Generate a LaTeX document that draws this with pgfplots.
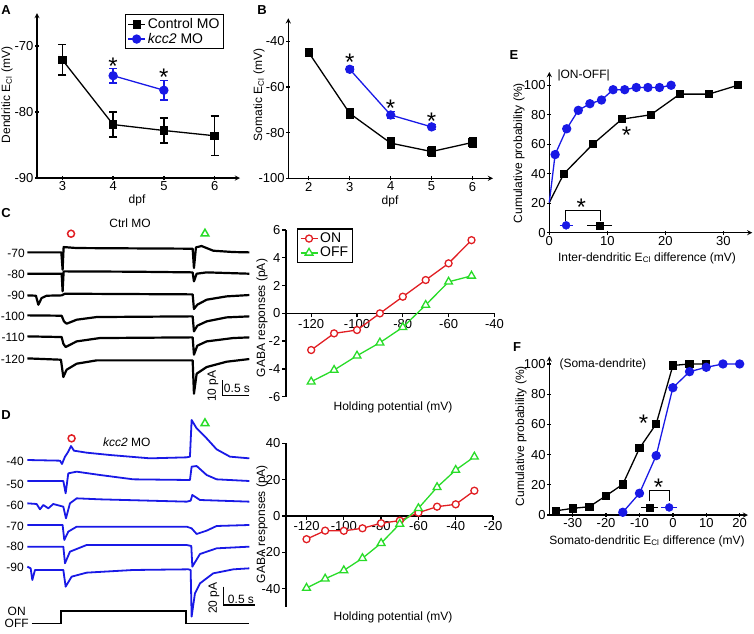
\documentclass[border=0pt]{standalone}
\usepackage{pgfplots}
\pgfplotsset{compat=1.18}
\usepackage{fontspec}
\setmainfont{Liberation Sans}
\definecolor{gpblue}{RGB}{25,25,230}
\definecolor{gpred}{RGB}{225,30,35}
\definecolor{gpgreen}{RGB}{40,220,40}
\pgfplotsset{
  every axis/.append style={font=\fontsize{12}{14}\selectfont},
  gpbase/.style={
    scale only axis,
    axis line style={-, line width=1.3pt},
    tick align=outside,
    major tick length=4pt,
    tick style={line width=1.3pt, black},
    /pgf/number format/assume math mode=true,
    clip=false,
    ticklabel style={font=\fontsize{13}{15}\selectfont, inner sep=1.5pt},
  },
  gp/.style={gpbase, axis lines=left},
  gpiv/.style={gpbase, axis x line*=middle, axis y line*=left},
  ebar/.style={error bars/.cd, y dir=both, y explicit,
    error bar style={line width=1.3pt},
    error mark options={line width=1.3pt, mark size=4pt, rotate=90}},
  xebar/.style={error bars/.cd, x dir=both, x explicit,
    error bar style={line width=1.3pt},
    error mark options={line width=1.3pt, mark size=3pt}},
  trace/.style={scale only axis, hide axis, clip=false},
}
\tikzset{star/.style={font=\fontsize{24}{24}\selectfont, inner sep=0pt, yshift=-5pt},
  lbl/.style={font=\fontsize{13}{13}\selectfont\bfseries}}
\begin{document}
\begin{tikzpicture}
\path[use as bounding box] (0,0) rectangle (754pt,-633pt);

% ---------- A ----------
\begin{axis}[gp, at={(37pt,-178pt)}, anchor=south west, width=203pt, height=165pt,
  xmin=2.5, xmax=6.5, ymin=-90, ymax=-65, xtick={3,4,5,6}, ytick={-90,-80,-70},
  legend style={at={(0.433,0.994)}, anchor=north west, draw=black, line width=1.2pt,
    font=\fontsize{14}{16}\selectfont, inner sep=2pt, row sep=-1pt, cells={anchor=west}}]
\addplot[black, line width=1.3pt, mark=square*, mark size=3.5pt, ebar]
  coordinates {(3,-72.1) +- (0,2.3) (4,-81.9) +- (0,1.9) (5,-82.8) +- (0,1.9) (6,-83.6) +- (0,3.0)};
\addlegendentry{Control MO}
\addplot[gpblue, line width=1.3pt, mark=*, mark size=4pt, ebar]
  coordinates {(4,-74.5) +- (0,1.1) (5,-76.7) +- (0,1.5)};
\addlegendentry{\textit{kcc2} MO}
\node[star] at (axis cs:4,-72.3) {*};
\node[star] at (axis cs:5,-74.0) {*};
\end{axis}

% ---------- B ----------
\begin{axis}[gp, at={(288.3pt,-178.3pt)}, anchor=south west, width=204.7pt, height=160pt,
  xmin=1.5, xmax=6.5, ymin=-100, ymax=-30, xtick={2,3,4,5,6}, ytick={-100,-80,-60,-40}]
\addplot[black, line width=1.3pt, mark=square*, mark size=3.5pt, ebar]
  coordinates {(2,-45) +- (0,1) (3,-71.6) +- (0,2.2) (4,-84.6) +- (0,2.2) (5,-88.3) +- (0,2) (6,-84.3) +- (0,2.2)};
\addplot[gpblue, line width=1.3pt, mark=*, mark size=4pt, ebar]
  coordinates {(3,-52.3) +- (0,1) (4,-72.3) +- (0,1.5) (5,-77.5) +- (0,1)};
\node[star] at (axis cs:3,-47.1) {*};
\node[star] at (axis cs:4,-67.3) {*};
\node[star] at (axis cs:5,-72.9) {*};
\end{axis}

% ---------- E ----------
\begin{axis}[gp, at={(549.3pt,-232.7pt)}, anchor=south west, width=203pt, height=160.7pt,
  xmin=0, xmax=35, ymin=0, ymax=109, xtick={0,10,20,30}, ytick={0,20,40,60,80,100}]
\addplot[black, line width=1.3pt] coordinates {(0,20.5) (2.5,40)};
\addplot[black, line width=1.3pt, mark=square*, mark size=3.5pt]
  coordinates {(2.5,40) (7.5,60) (12.5,77) (17.5,80) (22.5,94) (27.5,94) (32.5,100)};
\addplot[gpblue, line width=1.3pt] coordinates {(0,20.5) (1,53)};
\addplot[gpblue, line width=1.3pt, mark=*, mark size=4pt]
  coordinates {(1,53) (3,70.5) (5,83) (7,87.5) (9,90) (11,97) (13,97) (15,98.5) (17,98.5) (19,98.5) (21,100)};
\addplot[black, only marks, mark=square*, mark size=3.5pt, xebar] coordinates {(8.7,5) +- (1.6,0)};
\addplot[gpblue, only marks, mark=*, mark size=4pt, xebar] coordinates {(2.9,5) +- (0.6,0)};
\draw[line width=1.2pt] (axis cs:2.8,8) -- (axis cs:2.8,15) -- (axis cs:8.8,15) -- (axis cs:8.8,8);
\node[star] at (axis cs:5.5,20.5) {*};
\node[star] at (axis cs:13.3,69.5) {*};
\end{axis}

% ---------- F ----------
\begin{axis}[gp, at={(549.3pt,-515pt)}, anchor=south west, width=198.7pt, height=158.6pt,
  xmin=-37, xmax=22.5, ymin=0, ymax=105, xtick={-30,-20,-10,0,10,20}, ytick={0,20,40,60,80,100}]
\addplot[black, line width=1.3pt, mark=square*, mark size=3.5pt]
  coordinates {(-35,2.8) (-30,4.4) (-25,5.5) (-20,12.8) (-15,20.3) (-10,44.2) (-5,60.3) (0,99) (5,100) (10,100)};
\addplot[gpblue, line width=1.3pt, mark=*, mark size=4pt]
  coordinates {(-15,1.8) (-10,14.4) (-5,39.3) (0,84.3) (5,94.9) (10,97.8) (15,100) (20,100)};
\addplot[black, only marks, mark=square*, mark size=3.5pt, xebar] coordinates {(-7.0,5) +- (1.6,0)};
\addplot[gpblue, only marks, mark=*, mark size=4pt, xebar] coordinates {(-1.1,5) +- (1.5,0)};
\draw[line width=1.2pt] (axis cs:-7,9) -- (axis cs:-7,16) -- (axis cs:-1.1,16) -- (axis cs:-1.1,9);
\node[star] at (axis cs:-4.3,21.5) {*};
\node[star] at (axis cs:-8.8,64) {*};
\end{axis}

% ---------- C IV ----------
\begin{axis}[gpiv,
  at={(286pt,-396.7pt)}, anchor=south west, width=208.4pt, height=166.7pt,
  xmin=-131, xmax=-40, ymin=-6, ymax=6, xtick={-120,-100,-80,-60,-40}, ytick={-6,-4,-2,0,2,4,6},
  legend style={at={(0.054,1.01)}, anchor=north west, draw=black, line width=1.2pt,
    font=\fontsize{14}{16}\selectfont, inner sep=2pt, row sep=-1pt, cells={anchor=west}}]
\addplot[gpred, line width=1.3pt, mark=*, mark size=3.5pt, mark options={fill=white}]
  coordinates {(-120,-2.64) (-110,-1.44) (-100,-1.2) (-90,0.0) (-80,1.2) (-70,2.4) (-60,3.6) (-50,5.27)};
\addlegendentry{ON}
\addplot[gpgreen, line width=1.3pt, mark=triangle*, mark size=4.5pt, mark options={fill=white}]
  coordinates {(-120,-4.92) (-110,-4.08) (-100,-3.05) (-90,-2.11) (-80,-1.0) (-70,0.6) (-60,2.27) (-50,2.7)};
\addlegendentry{OFF}
\end{axis}

% ---------- D IV ----------
\begin{axis}[gpiv,
  at={(286pt,-606.7pt)}, anchor=south west, width=207pt, height=163.4pt,
  xmin=-131, xmax=-20, ymin=-50, ymax=40, xtick={-120,-100,-80,-60,-40,-20}, ytick={-40,-20,0,20,40}]
\addplot[gpred, line width=1.3pt, mark=*, mark size=3.5pt, mark options={fill=white}]
  coordinates {(-120,-12.8) (-110,-8.1) (-100,-8.2) (-90,-6.8) (-80,-4.0) (-70,-2.6) (-60,1.8) (-50,5.1) (-40,6.4) (-30,13.9)};
\addplot[gpgreen, line width=1.3pt, mark=triangle*, mark size=4.5pt, mark options={fill=white}]
  coordinates {(-120,-39.7) (-110,-34.6) (-100,-30.0) (-90,-23.3) (-80,-15.0) (-70,-4.4) (-60,4.2) (-50,15.8) (-40,25.3) (-30,32.6)};
\end{axis}

% ---------- C traces ----------
\begin{axis}[trace, at={(27.3pt,-398.7pt)}, anchor=south west, width=222pt, height=170.2pt,
  xmin=0, xmax=4.111, ymin=-95, ymax=16]
\addplot[black, line width=2.2pt, line join=round] coordinates {(0,0.43) (0.63,0.43) (0.654,-10.87) (0.673,3.91) (0.914,3.26) (1.963,3.04) (3.062,2.83) (3.086,-9.78) (3.123,3.70) (3.228,4.57) (3.444,1.52) (3.815,0.65) (4.111,0.43)};
\addplot[black, line width=2.2pt, line join=round] coordinates {(0,-13.48) (0.636,-13.48) (0.654,-25.0) (0.673,-11.96) (1.963,-12.17) (3.062,-12.61) (3.086,-18.48) (3.136,-13.48) (3.321,-12.61) (4.111,-13.48)};
\addplot[black, line width=2.2pt, line join=round] coordinates {(0,-27.61) (0.160,-27.83) (0.204,-33.70) (0.265,-29.35) (0.358,-27.83) (0.636,-27.61) (0.698,-26.52) (3.062,-26.96) (3.086,-36.52) (3.148,-33.70) (3.321,-30.43) (3.691,-28.26) (4.111,-27.39)};
\addplot[black, line width=2.2pt, line join=round] coordinates {(0,-40.65) (0.636,-40.87) (0.679,-44.57) (0.728,-46.09) (0.914,-43.48) (1.284,-41.74) (3.062,-41.30) (3.086,-51.09) (3.148,-47.39) (3.321,-44.57) (3.691,-41.96) (4.111,-41.30)};
\addplot[black, line width=2.2pt, line join=round] coordinates {(0,-54.35) (0.636,-54.78) (0.667,-59.13) (0.710,-61.30) (0.914,-57.61) (1.346,-55.43) (3.062,-55.00) (3.086,-66.30) (3.148,-60.43) (3.321,-57.61) (3.815,-55.43) (4.111,-55.00)};
\addplot[black, line width=2.2pt, line join=round] coordinates {(0,-68.70) (0.623,-69.57) (0.667,-80.87) (0.728,-76.09) (0.914,-72.17) (1.284,-70.0) (3.062,-70.0) (3.086,-91.74) (3.136,-78.70) (3.321,-74.35) (3.691,-70.87) (4.111,-69.13)};
\addplot[gpred, only marks, mark=o, mark size=3.5pt, line width=1.5pt] coordinates {(0.81,12.6)};
\addplot[gpgreen, only marks, mark=triangle, mark size=4.5pt, line width=1.5pt] coordinates {(3.29,12.6)};
\draw[line width=1.2pt] (axis cs:3.61,-83.0) -- (axis cs:3.61,-93.0) -- (axis cs:4.11,-93.0);
\end{axis}

% ---------- D traces ----------
\begin{axis}[trace, at={(27.3pt,-626.8pt)}, anchor=south west, width=232.2pt, height=210.8pt,
  xmin=0, xmax=4.3, ymin=-182, ymax=48]
\addplot[gpblue, line width=1.8pt, line join=round] coordinates {(0,0) (0.605,-0.73) (0.642,-4.36) (0.698,3.64) (0.759,9.09) (0.809,15.27) (0.864,10.18) (1.099,8.0) (1.531,5.45) (2.272,1.82) (2.951,2.91) (3.012,3.64) (3.043,43.64) (3.136,34.55) (3.321,23.64) (3.506,11.64) (3.753,3.64) (4.111,1.82)};
\addplot[gpblue, line width=1.8pt, line join=round] coordinates {(0,-22.91) (0.667,-22.91) (0.710,-36.36) (0.759,-14.55) (0.914,-12.73) (1.346,-16.36) (1.963,-21.09) (3.012,-21.82) (3.043,-7.27) (3.136,-6.55) (3.321,-16.36) (3.506,-21.09) (4.111,-22.91)};
\addplot[gpblue, line width=1.8pt, line join=round] coordinates {(0,-47.27) (0.173,-48.0) (0.235,-53.82) (0.296,-49.09) (0.389,-52.73) (0.481,-48.0) (0.667,-50.91) (0.716,-63.64) (0.790,-47.27) (0.914,-41.82) (1.346,-42.91) (2.951,-45.45) (3.025,-44.36) (3.056,-38.18) (3.198,-43.64) (4.111,-45.45)};
\addplot[gpblue, line width=1.8pt, line join=round] coordinates {(0,-70.91) (0.654,-70.91) (0.685,-87.27) (0.759,-78.18) (0.914,-72.73) (2.951,-72.73) (3.043,-74.55) (3.136,-80.73) (3.321,-77.09) (3.506,-72.0) (4.111,-70.91)};
\addplot[gpblue, line width=1.8pt, line join=round] coordinates {(0,-94.55) (0.667,-94.55) (0.698,-112.73) (0.790,-100.0) (1.099,-92.73) (2.951,-92.73) (3.037,-93.82) (3.056,-116.36) (3.198,-102.55) (3.506,-96.36) (4.111,-94.55)};
\addplot[gpblue, line width=1.8pt, line join=round] coordinates {(0,-116.36) (0.062,-118.18) (0.093,-130.91) (0.142,-120.0) (0.667,-120.0) (0.710,-138.18) (0.821,-127.27) (1.099,-122.91) (1.963,-120.0) (2.981,-119.27) (3.025,-120.0) (3.043,-170.91) (3.105,-145.45) (3.198,-134.55) (3.444,-123.64) (3.815,-119.27) (4.111,-118.18)};
\addplot[black, line width=1.3pt] coordinates {(0.080,-178.18) (0.623,-178.18) (0.623,-164.73) (2.938,-164.73) (2.938,-178.18) (4.111,-178.18)};
\addplot[gpred, only marks, mark=o, mark size=3.5pt, line width=1.5pt] coordinates {(0.82,23.6)};
\addplot[gpgreen, only marks, mark=triangle, mark size=4.5pt, line width=1.5pt] coordinates {(3.29,40)};
\draw[line width=1.2pt] (axis cs:3.63,-138.2) -- (axis cs:3.63,-158.2) -- (axis cs:4.22,-158.2);
\end{axis}

% ---------- text ----------
\begin{scope}[font=\fontsize{12}{14}\selectfont]
\node[rotate=90] at (7pt,-95pt) {Dendritic E\textsubscript{Cl} (mV)};
\node[rotate=90] at (259pt,-95pt) {Somatic E\textsubscript{Cl} (mV)};
\node[rotate=90] at (519pt,-153pt) {Cumulative probability (\%)};
\node[rotate=90] at (521pt,-436pt) {Cumulative probability (\%)};
\node[rotate=90] at (262pt,-318pt) {GABA responses (pA)};
\node[rotate=90] at (262pt,-524pt) {GABA responses (pA)};
\node at (137pt,-200pt) {dpf};
\node at (390pt,-201pt) {dpf};
\node at (647pt,-258pt) {Inter-dendritic E\textsubscript{Cl} difference (mV)};
\node at (647pt,-541pt) {Somato-dendritic E\textsubscript{Cl} difference (mV)};
\node at (393pt,-407pt) {Holding potential (mV)};
\node at (393pt,-617pt) {Holding potential (mV)};
\node[anchor=west] at (554pt,-75pt) {|ON-OFF|};
\node[anchor=west] at (556pt,-364pt) {(Soma-dendrite)};
\node at (130pt,-223.3pt) {Ctrl MO};
\node at (126.7pt,-442.3pt) {\textit{kcc2} MO};
\node[rotate=90] at (213pt,-386pt) {10 pA};
\node at (237pt,-388pt) {0.5 s};
\node[rotate=90] at (214pt,-598pt) {20 pA};
\node at (241pt,-599pt) {0.5 s};
\node at (16.7pt,-611.7pt) {ON};
\node at (16.7pt,-623.3pt) {OFF};
\foreach \l/\y in {-70/253.3,-80/274.3,-90/295.7,-100/316.7,-110/337.7,-120/359.3}
  \node[anchor=east, inner sep=1pt] at (26pt,-\y pt) {\l};
\foreach \l/\y in {-40/461.7,-50/484,-60/505.7,-70/526.7,-80/546.7,-90/567.3}
  \node[anchor=east, inner sep=1pt] at (25pt,-\y pt) {\l};
\end{scope}
\node[lbl] at (6pt,-10pt) {A};
\node[lbl] at (262pt,-10pt) {B};
\node[lbl] at (6pt,-213pt) {C};
\node[lbl] at (6pt,-415pt) {D};
\node[lbl] at (514pt,-55pt) {E};
\node[lbl] at (517pt,-347pt) {F};
\end{tikzpicture}
\end{document}
